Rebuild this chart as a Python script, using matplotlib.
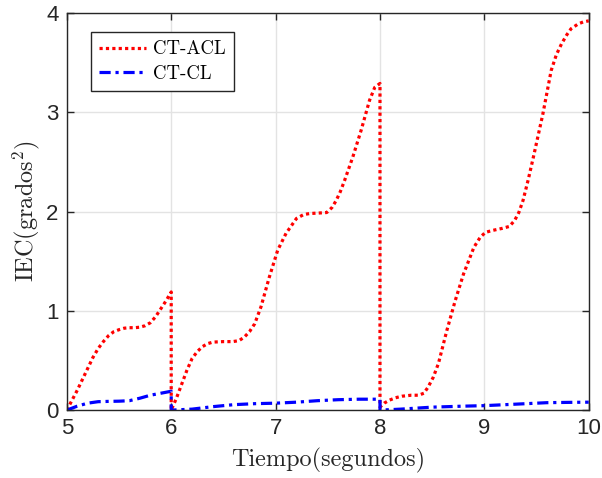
import matplotlib
matplotlib.use('Agg')
import matplotlib.pyplot as plt

# CT-ACL (red dotted), resets at t=6 and t=8
t_acl = [5.0, 5.05, 5.1, 5.15, 5.2, 5.25, 5.3, 5.35, 5.4, 5.45, 5.5, 5.55, 5.6, 5.65, 5.7, 5.75,
         5.8, 5.85, 5.9, 5.95, 6.0,
         6.0, 6.05, 6.1, 6.15, 6.2, 6.25, 6.3, 6.35, 6.4, 6.5, 6.59, 6.65, 6.7, 6.75, 6.8, 6.86,
         6.94, 7.02, 7.1, 7.2, 7.27, 7.33, 7.42, 7.49, 7.54, 7.58, 7.62, 7.66, 7.74, 7.82, 7.9,
         7.95, 8.0,
         8.0, 8.04, 8.09, 8.15, 8.21, 8.3, 8.37, 8.42, 8.46, 8.51, 8.56, 8.64, 8.72, 8.8, 8.9,
         8.96, 9.01, 9.08, 9.17, 9.24, 9.29, 9.33, 9.37, 9.42, 9.47, 9.56, 9.64, 9.69, 9.74,
         9.79, 9.83, 9.9, 9.95, 10.0]
iec_acl = [0.0, 0.1, 0.2, 0.31, 0.42, 0.53, 0.62, 0.69, 0.75, 0.79, 0.81, 0.825, 0.83, 0.83, 0.835,
           0.85, 0.88, 0.94, 1.02, 1.1, 1.19,
           0.0, 0.12, 0.26, 0.4, 0.52, 0.59, 0.64, 0.67, 0.685, 0.69, 0.69, 0.7, 0.735, 0.79,
           0.87, 1.04, 1.34, 1.61, 1.78, 1.93, 1.97, 1.98, 1.985, 1.99, 2.04, 2.11, 2.2, 2.31,
           2.55, 2.82, 3.12, 3.25, 3.29,
           0.03, 0.07, 0.1, 0.125, 0.14, 0.15, 0.15, 0.17, 0.23, 0.33, 0.47, 0.8, 1.1, 1.37,
           1.64, 1.74, 1.79, 1.81, 1.83, 1.85, 1.91, 1.99, 2.11, 2.32, 2.55, 2.98, 3.42, 3.58,
           3.69, 3.78, 3.84, 3.89, 3.91, 3.92]

# CT-CL (blue dash-dot)
t_cl = [5.0, 5.1, 5.2, 5.3, 5.4, 5.5, 5.6, 5.7, 5.8, 5.9, 6.0,
        6.0, 6.2, 6.4, 6.6, 6.8, 7.0, 7.2, 7.4, 7.6, 7.8, 8.0,
        8.0, 8.2, 8.5, 8.8, 9.0, 9.2, 9.4, 9.6, 9.8, 10.0]
iec_cl = [0.0, 0.04, 0.07, 0.085, 0.088, 0.09, 0.095, 0.12, 0.15, 0.17, 0.19,
          0.0, 0.01, 0.035, 0.055, 0.065, 0.07, 0.08, 0.095, 0.105, 0.11, 0.11,
          0.0, 0.01, 0.03, 0.04, 0.045, 0.055, 0.065, 0.075, 0.078, 0.08]

xticks = [5, 6, 7, 8, 9, 10]
yticks = [0, 1, 2, 3, 4]

plt.rcParams['mathtext.fontset'] = 'cm'
plt.rcParams['font.family'] = ['Liberation Sans', 'DejaVu Sans']

fig = plt.figure(figsize=(6.02, 4.78), dpi=100)
ax = fig.add_axes([0.111, 0.142, 0.867, 0.831])

ax.plot(t_acl, iec_acl, color='red', lw=2.3, linestyle=(0, (1, 1)), label='CT-ACL')
ax.plot(t_cl, iec_cl, color='blue', lw=2.3, linestyle=(0, (3.5, 1.5, 1, 1.5)), label='CT-CL')

ax.set_xlim(5, 10)
ax.set_ylim(0, 4)
ax.set_xticks(xticks)
ax.set_yticks(yticks)
ax.grid(True, color='#e3e3e3', lw=1)
ax.set_axisbelow(True)
ax.tick_params(direction='in', top=True, right=True, length=5, width=1,
               labelsize=16, colors='#262626', pad=6)
for s in ax.spines.values():
    s.set_color('#262626')
    s.set_linewidth(1)

ax.set_xlabel('Tiempo(segundos)', family='cmr10', fontsize=17.5, color='#262626', labelpad=6)
ax.set_ylabel('IEC(grados$^2$)', family='cmr10', fontsize=17.5, color='#262626', labelpad=3)

leg = ax.legend(loc='upper left', bbox_to_anchor=(0.046, 0.952), prop={'family': 'cmr10', 'size': 13.5},
                fancybox=False, framealpha=1, edgecolor='#262626', handlelength=2.5,
                borderpad=0.45, labelspacing=0.35, handletextpad=0.35, borderaxespad=0)
leg.get_frame().set_linewidth(1)

fig.savefig('out.png', dpi=100)
